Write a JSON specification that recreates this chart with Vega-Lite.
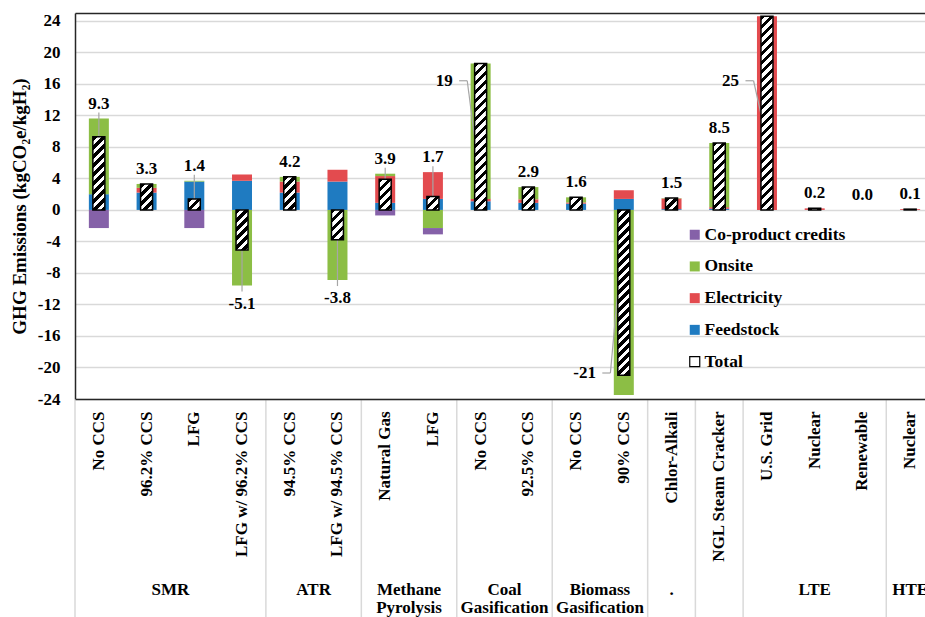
{
  "$schema": "https://vega.github.io/schema/vega-lite/v6.json",
  "width": 850,
  "height": 386,
  "autosize": {"type": "none"},
  "padding": {"left": 75, "top": 13, "right": 0, "bottom": 218},
  "background": "white",
  "config": {
    "font": "Liberation Serif",
    "view": {"stroke": null},
    "axisY": {
      "ticks": false,
      "tickSize": 0,
      "domain": true,
      "domainColor": "#262626",
      "domainWidth": 1.5,
      "labelPadding": 15,
      "labelOverlap": false,
      "labelFont": "Liberation Serif",
      "labelFontWeight": "bold",
      "labelFontSize": 17,
      "labelColor": "#000",
      "titleFont": "Liberation Serif",
      "titleFontWeight": "bold",
      "titleFontSize": 19,
      "titleColor": "#000",
      "titlePadding": 8,
      "grid": true
    }
  },
  "params": [
    {"name": "hatch", "value": [
      {"offset":0,"color":"#000"},{"offset":0.02,"color":"#000"},{"offset":0.02,"color":"#fff"},{"offset":0.04,"color":"#fff"},
      {"offset":0.04,"color":"#000"},{"offset":0.06,"color":"#000"},{"offset":0.06,"color":"#fff"},{"offset":0.08,"color":"#fff"},
      {"offset":0.08,"color":"#000"},{"offset":0.1,"color":"#000"},{"offset":0.1,"color":"#fff"},{"offset":0.12,"color":"#fff"},
      {"offset":0.12,"color":"#000"},{"offset":0.14,"color":"#000"},{"offset":0.14,"color":"#fff"},{"offset":0.16,"color":"#fff"},
      {"offset":0.16,"color":"#000"},{"offset":0.18,"color":"#000"},{"offset":0.18,"color":"#fff"},{"offset":0.2,"color":"#fff"},
      {"offset":0.2,"color":"#000"},{"offset":0.22,"color":"#000"},{"offset":0.22,"color":"#fff"},{"offset":0.24,"color":"#fff"},
      {"offset":0.24,"color":"#000"},{"offset":0.26,"color":"#000"},{"offset":0.26,"color":"#fff"},{"offset":0.28,"color":"#fff"},
      {"offset":0.28,"color":"#000"},{"offset":0.3,"color":"#000"},{"offset":0.3,"color":"#fff"},{"offset":0.32,"color":"#fff"},
      {"offset":0.32,"color":"#000"},{"offset":0.34,"color":"#000"},{"offset":0.34,"color":"#fff"},{"offset":0.36,"color":"#fff"},
      {"offset":0.36,"color":"#000"},{"offset":0.38,"color":"#000"},{"offset":0.38,"color":"#fff"},{"offset":0.4,"color":"#fff"},
      {"offset":0.4,"color":"#000"},{"offset":0.42,"color":"#000"},{"offset":0.42,"color":"#fff"},{"offset":0.44,"color":"#fff"},
      {"offset":0.44,"color":"#000"},{"offset":0.46,"color":"#000"},{"offset":0.46,"color":"#fff"},{"offset":0.48,"color":"#fff"},
      {"offset":0.48,"color":"#000"},{"offset":0.5,"color":"#000"},{"offset":0.5,"color":"#fff"},{"offset":0.52,"color":"#fff"},
      {"offset":0.52,"color":"#000"},{"offset":0.54,"color":"#000"},{"offset":0.54,"color":"#fff"},{"offset":0.56,"color":"#fff"},
      {"offset":0.56,"color":"#000"},{"offset":0.58,"color":"#000"},{"offset":0.58,"color":"#fff"},{"offset":0.6,"color":"#fff"},
      {"offset":0.6,"color":"#000"},{"offset":0.62,"color":"#000"},{"offset":0.62,"color":"#fff"},{"offset":0.64,"color":"#fff"},
      {"offset":0.64,"color":"#000"},{"offset":0.66,"color":"#000"},{"offset":0.66,"color":"#fff"},{"offset":0.68,"color":"#fff"},
      {"offset":0.68,"color":"#000"},{"offset":0.7,"color":"#000"},{"offset":0.7,"color":"#fff"},{"offset":0.72,"color":"#fff"},
      {"offset":0.72,"color":"#000"},{"offset":0.74,"color":"#000"},{"offset":0.74,"color":"#fff"},{"offset":0.76,"color":"#fff"},
      {"offset":0.76,"color":"#000"},{"offset":0.78,"color":"#000"},{"offset":0.78,"color":"#fff"},{"offset":0.8,"color":"#fff"},
      {"offset":0.8,"color":"#000"},{"offset":0.82,"color":"#000"},{"offset":0.82,"color":"#fff"},{"offset":0.84,"color":"#fff"},
      {"offset":0.84,"color":"#000"},{"offset":0.86,"color":"#000"},{"offset":0.86,"color":"#fff"},{"offset":0.88,"color":"#fff"},
      {"offset":0.88,"color":"#000"},{"offset":0.9,"color":"#000"},{"offset":0.9,"color":"#fff"},{"offset":0.92,"color":"#fff"},
      {"offset":0.92,"color":"#000"},{"offset":0.94,"color":"#000"},{"offset":0.94,"color":"#fff"},{"offset":0.96,"color":"#fff"},
      {"offset":0.96,"color":"#000"},{"offset":0.98,"color":"#000"},{"offset":0.98,"color":"#fff"},{"offset":1,"color":"#fff"}
    ]},
    {"name": "hatchKey", "value": [
      {"offset":0,"color":"#fff"},{"offset":0.33,"color":"#fff"},{"offset":0.33,"color":"#000"},
      {"offset":0.67,"color":"#000"},{"offset":0.67,"color":"#fff"},{"offset":1,"color":"#fff"}
    ]}
  ],
  "data": {"values": [
    {"grp":"SMR","cat":"No CCS","feedstock":2.0,"electricity":0,"onsite":9.6,"credits":-2.3,"total":9.3},
    {"grp":"SMR","cat":"96.2% CCS","feedstock":2.2,"electricity":0.6,"onsite":0.5,"credits":0,"total":3.3},
    {"grp":"SMR","cat":"LFG","feedstock":3.6,"electricity":0,"onsite":0.1,"credits":-2.3,"total":1.4},
    {"grp":"SMR","cat":"LFG w/ 96.2% CCS","feedstock":3.7,"electricity":0.8,"onsite":-9.6,"credits":0,"total":-5.1},
    {"grp":"ATR","cat":"94.5% CCS","feedstock":2.2,"electricity":1.4,"onsite":0.6,"credits":0,"total":4.2},
    {"grp":"ATR","cat":"LFG w/ 94.5% CCS","feedstock":3.6,"electricity":1.5,"onsite":-8.9,"credits":0,"total":-3.8},
    {"grp":"Methane Pyrolysis","cat":"Natural Gas","feedstock":0.9,"electricity":3.4,"onsite":0.3,"credits":-0.7,"total":3.9},
    {"grp":"Methane Pyrolysis","cat":"LFG","feedstock":1.4,"electricity":3.4,"onsite":-2.3,"credits":-0.8,"total":1.7},
    {"grp":"Coal Gasification","cat":"No CCS","feedstock":1.1,"electricity":0.3,"onsite":17.2,"credits":0,"total":18.6},
    {"grp":"Coal Gasification","cat":"92.5% CCS","feedstock":0.9,"electricity":0.45,"onsite":1.55,"credits":0,"total":2.9},
    {"grp":"Biomass Gasification","cat":"No CCS","feedstock":0.8,"electricity":0.15,"onsite":0.65,"credits":0,"total":1.6},
    {"grp":"Biomass Gasification","cat":"90% CCS","feedstock":1.4,"electricity":1.1,"onsite":-23.5,"credits":0,"total":-21.0},
    {"grp":".","cat":"Chlor-Alkali","feedstock":0.1,"electricity":1.35,"onsite":0.05,"credits":0,"total":1.5},
    {"grp":"","cat":"NGL Steam Cracker","feedstock":0.15,"electricity":0.2,"onsite":8.15,"credits":0,"total":8.5},
    {"grp":"LTE","cat":"U.S. Grid","feedstock":0,"electricity":24.6,"onsite":0,"credits":0,"total":24.6},
    {"grp":"LTE","cat":"Nuclear","feedstock":0,"electricity":0.2,"onsite":0,"credits":0,"total":0.2},
    {"grp":"LTE","cat":"Renewable","feedstock":0,"electricity":0,"onsite":0,"credits":0,"total":0},
    {"grp":"HTE","cat":"Nuclear","feedstock":0,"electricity":0.1,"onsite":0,"credits":0,"total":0.1}
  ]},
  "transform": [
    {"calculate": "datum.grp + '|' + datum.cat", "as": "key"},
    {"window": [{"op": "row_number", "as": "k"}], "groupby": ["grp"]},
    {"joinaggregate": [{"op": "count", "as": "n"}], "groupby": ["grp"]},
    {"calculate": "max(0, datum.feedstock) + max(0, datum.electricity) + max(0, datum.onsite) + max(0, datum.credits)", "as": "posTop"},
    {"calculate": "min(0, datum.feedstock) + min(0, datum.electricity) + min(0, datum.onsite) + min(0, datum.credits)", "as": "negBot"},
    {"calculate": "datum.total >= 0 ? datum.posTop : datum.negBot", "as": "ly"},
    {"calculate": "datum.total > 0 ? 16.4 : datum.total + 0.3", "as": "lyBig"},
    {"calculate": "datum.total / 2", "as": "half"},
    {"calculate": "(datum.total < 0 ? '-' : '') + format(abs(datum.total), abs(datum.total) >= 10 ? '.0f' : '.1f')", "as": "lbl"}
  ],
  "encoding": {
    "x": {
      "field": "key",
      "type": "nominal",
      "scale": {
        "domain": ["SMR|No CCS","SMR|96.2% CCS","SMR|LFG","SMR|LFG w/ 96.2% CCS","ATR|94.5% CCS","ATR|LFG w/ 94.5% CCS","Methane Pyrolysis|Natural Gas","Methane Pyrolysis|LFG","Coal Gasification|No CCS","Coal Gasification|92.5% CCS","Biomass Gasification|No CCS","Biomass Gasification|90% CCS",".|Chlor-Alkali","|NGL Steam Cracker","LTE|U.S. Grid","LTE|Nuclear","LTE|Renewable","HTE|Nuclear"],
        "range": [0, 859],
        "paddingInner": 0,
        "paddingOuter": 0
      },
      "axis": {
        "title": null,
        "labelAngle": 270,
        "labelAlign": "right",
        "labelBaseline": "middle",
        "labelPadding": 12,
        "ticks": false,
        "tickSize": 0,
        "domain": true,
        "domainColor": "#262626",
        "domainWidth": 1.5,
        "grid": false,
        "labelExpr": "split(datum.value, '|')[1]",
        "labelFont": "Liberation Serif",
        "labelFontWeight": "bold",
        "labelFontSize": 17,
        "labelColor": "#000",
        "labelOverlap": false,
        "labelLimit": 300,
        "zindex": 1
      }
    }
  },
  "layer": [
    {
      "transform": [
        {"fold": ["feedstock", "electricity", "onsite", "credits"], "as": ["part", "amount"]},
        {"filter": "datum.amount != 0"},
        {"calculate": "indexof(['feedstock', 'electricity', 'onsite', 'credits'], datum.part)", "as": "ord"}
      ],
      "mark": {"type": "bar", "size": 20},
      "encoding": {
        "y": {
          "field": "amount",
          "type": "quantitative",
          "stack": "zero",
          "scale": {"domain": [-24, 25], "nice": false, "zero": false},
          "axis": {"values": [-24, -20, -16, -12, -8, -4, 0, 4, 8, 12, 16, 20, 24, 25], "labelExpr": "datum.value == 25 ? '' : (datum.value < 0 ? '-' : '') + abs(datum.value)", "labelOverlap": false, "gridColor": {"condition": {"test": "datum.value == 25", "value": "#262626"}, "value": "#d9d9d9"}, "gridWidth": {"condition": {"test": "datum.value == 25", "value": 1.5}, "value": 1.3}, "title": "GHG Emissions (kgCO₂e/kgH₂)"}
        },
        "color": {
          "field": "part",
          "type": "nominal",
          "scale": {
            "domain": ["credits", "onsite", "electricity", "feedstock", "total"],
            "range": ["#8561a8", "#8cbe45", "#e34b4f", "#1f7bc1", "#ffffff"]
          },
          "legend": {
            "title": null,
            "orient": "none",
            "legendX": 611,
            "legendY": 213,
            "padding": 0,
            "symbolType": "square",
            "symbolSize": 100,
            "rowPadding": 12.7,
            "labelOffset": 1,
            "labelFont": "Liberation Serif",
            "labelFontWeight": "bold",
            "labelFontSize": 17.5,
            "labelColor": "#000",
            "labelExpr": "datum.value == 'credits' ? 'Co-product credits' : datum.value == 'onsite' ? 'Onsite' : datum.value == 'electricity' ? 'Electricity' : datum.value == 'feedstock' ? 'Feedstock' : 'Total'",
            "encode": {
              "symbols": {
                "update": {
                  "fill": {"signal": "datum.value === 'total' ? {gradient: 'linear', x1: 0, y1: 0, x2: 1, y2: 1, stops: hatchKey} : scale('color', datum.value)"},
                  "stroke": {"signal": "datum.value === 'total' ? '#000' : null"},
                  "strokeWidth": {"value": 1.2},
                  "opacity": {"value": 1}
                }
              }
            }
          }
        },
        "order": {"field": "ord", "type": "quantitative"}
      }
    },
    {
      "transform": [
        {"filter": "abs(datum.total) < 15 && (datum.total >= 0 ? datum.posTop - datum.total : datum.total - datum.negBot) > 0.3"}
      ],
      "mark": {"type": "rule", "color": "#a6a6a6", "strokeWidth": 1.2, "y2Offset": {"expr": "datum.total >= 0 ? -6 : 6"}},
      "encoding": {
        "y": {"field": "total", "type": "quantitative", "scale": {"domain": [-24, 25], "nice": false, "zero": false},
          "axis": {"values": [-24, -20, -16, -12, -8, -4, 0, 4, 8, 12, 16, 20, 24, 25], "labelExpr": "datum.value == 25 ? '' : (datum.value < 0 ? '-' : '') + abs(datum.value)", "labelOverlap": false, "gridColor": {"condition": {"test": "datum.value == 25", "value": "#262626"}, "value": "#d9d9d9"}, "gridWidth": {"condition": {"test": "datum.value == 25", "value": 1.5}, "value": 1.3}, "title": "GHG Emissions (kgCO₂e/kgH₂)"}},
        "y2": {"field": "ly"}
      }
    },
    {
      "transform": [{"filter": "abs(datum.total) >= 15"}],
      "mark": {"type": "rule", "color": "#a6a6a6", "strokeWidth": 1.2, "xOffset": -21.5, "x2Offset": -13.4},
      "encoding": {
        "x2": {"field": "key"},
        "y": {"field": "lyBig", "type": "quantitative", "scale": {"domain": [-24, 25], "nice": false, "zero": false},
          "axis": {"values": [-24, -20, -16, -12, -8, -4, 0, 4, 8, 12, 16, 20, 24, 25], "labelExpr": "datum.value == 25 ? '' : (datum.value < 0 ? '-' : '') + abs(datum.value)", "labelOverlap": false, "gridColor": {"condition": {"test": "datum.value == 25", "value": "#262626"}, "value": "#d9d9d9"}, "gridWidth": {"condition": {"test": "datum.value == 25", "value": 1.5}, "value": 1.3}, "title": "GHG Emissions (kgCO₂e/kgH₂)"}}
      }
    },
    {
      "transform": [{"filter": "abs(datum.total) >= 15"}],
      "mark": {"type": "rule", "color": "#a6a6a6", "strokeWidth": 1.2, "xOffset": -13.4, "x2Offset": -6.2},
      "encoding": {
        "x2": {"field": "key"},
        "y": {"field": "lyBig", "type": "quantitative", "scale": {"domain": [-24, 25], "nice": false, "zero": false},
          "axis": {"values": [-24, -20, -16, -12, -8, -4, 0, 4, 8, 12, 16, 20, 24, 25], "labelExpr": "datum.value == 25 ? '' : (datum.value < 0 ? '-' : '') + abs(datum.value)", "labelOverlap": false, "gridColor": {"condition": {"test": "datum.value == 25", "value": "#262626"}, "value": "#d9d9d9"}, "gridWidth": {"condition": {"test": "datum.value == 25", "value": 1.5}, "value": 1.3}, "title": "GHG Emissions (kgCO₂e/kgH₂)"}},
        "y2": {"field": "half"}
      }
    },
    {
      "transform": [{"filter": "datum.total != 0"}],
      "mark": {
        "type": "bar",
        "size": 12,
        "stroke": "#000",
        "strokeWidth": 1.5,
        "fill": {"expr": "{gradient: 'linear', x1: 0, y1: 0, x2: 2700 / (pow(scale('y', 0) - scale('y', datum.total), 2) + 144), y2: 225 * abs(scale('y', 0) - scale('y', datum.total)) / (pow(scale('y', 0) - scale('y', datum.total), 2) + 144), stops: hatch}"}
      },
      "encoding": {
        "y": {"field": "total", "type": "quantitative", "stack": null, "scale": {"domain": [-24, 25], "nice": false, "zero": false},
          "axis": {"values": [-24, -20, -16, -12, -8, -4, 0, 4, 8, 12, 16, 20, 24, 25], "labelExpr": "datum.value == 25 ? '' : (datum.value < 0 ? '-' : '') + abs(datum.value)", "labelOverlap": false, "gridColor": {"condition": {"test": "datum.value == 25", "value": "#262626"}, "value": "#d9d9d9"}, "gridWidth": {"condition": {"test": "datum.value == 25", "value": 1.5}, "value": 1.3}, "title": "GHG Emissions (kgCO₂e/kgH₂)"}}
      }
    },
    {
      "transform": [{"filter": "abs(datum.total) < 15"}],
      "mark": {
        "type": "text",
        "font": "Liberation Serif",
        "fontWeight": "bold",
        "fontSize": 17,
        "color": "#000",
        "baseline": "middle",
        "dy": {"expr": "datum.total >= 0 ? -15 : 18"}
      },
      "encoding": {
        "y": {"field": "ly", "type": "quantitative", "scale": {"domain": [-24, 25], "nice": false, "zero": false},
          "axis": {"values": [-24, -20, -16, -12, -8, -4, 0, 4, 8, 12, 16, 20, 24, 25], "labelExpr": "datum.value == 25 ? '' : (datum.value < 0 ? '-' : '') + abs(datum.value)", "labelOverlap": false, "gridColor": {"condition": {"test": "datum.value == 25", "value": "#262626"}, "value": "#d9d9d9"}, "gridWidth": {"condition": {"test": "datum.value == 25", "value": 1.5}, "value": 1.3}, "title": "GHG Emissions (kgCO₂e/kgH₂)"}},
        "text": {"field": "lbl"}
      }
    },
    {
      "transform": [{"filter": "abs(datum.total) >= 15"}],
      "mark": {
        "type": "text",
        "font": "Liberation Serif",
        "fontWeight": "bold",
        "fontSize": 17,
        "color": "#000",
        "align": "right",
        "baseline": "middle",
        "dx": -27.9
      },
      "encoding": {
        "y": {"field": "lyBig", "type": "quantitative", "scale": {"domain": [-24, 25], "nice": false, "zero": false},
          "axis": {"values": [-24, -20, -16, -12, -8, -4, 0, 4, 8, 12, 16, 20, 24, 25], "labelExpr": "datum.value == 25 ? '' : (datum.value < 0 ? '-' : '') + abs(datum.value)", "labelOverlap": false, "gridColor": {"condition": {"test": "datum.value == 25", "value": "#262626"}, "value": "#d9d9d9"}, "gridWidth": {"condition": {"test": "datum.value == 25", "value": 1.5}, "value": 1.3}, "title": "GHG Emissions (kgCO₂e/kgH₂)"}},
        "text": {"field": "lbl"}
      }
    },
    {
      "transform": [{"filter": "datum.k == 1"}],
      "mark": {"type": "rule", "color": "#d9d9d9", "strokeWidth": 1.5, "xOffset": {"expr": "-bandwidth('x') / 2"}},
      "encoding": {
        "y": {"datum": -24, "scale": {"domain": [-24, 25], "nice": false, "zero": false},
          "axis": {"values": [-24, -20, -16, -12, -8, -4, 0, 4, 8, 12, 16, 20, 24, 25], "labelExpr": "datum.value == 25 ? '' : (datum.value < 0 ? '-' : '') + abs(datum.value)", "labelOverlap": false, "gridColor": {"condition": {"test": "datum.value == 25", "value": "#262626"}, "value": "#d9d9d9"}, "gridWidth": {"condition": {"test": "datum.value == 25", "value": 1.5}, "value": 1.3}, "title": "GHG Emissions (kgCO₂e/kgH₂)"}},
        "y2": {"datum": -52.8}
      }
    },
    {
      "transform": [{"filter": "datum.k == floor(datum.n / 2) + 1"}],
      "mark": {
        "type": "text",
        "font": "Liberation Serif",
        "fontWeight": "bold",
        "fontSize": 17,
        "color": "#000",
        "align": "center",
        "baseline": "top",
        "lineBreak": " ",
        "lineHeight": 18,
        "dx": {"expr": "datum.n % 2 == 0 ? -bandwidth('x') / 2 : 0"}
      },
      "encoding": {
        "y": {"datum": -47.2, "scale": {"domain": [-24, 25], "nice": false, "zero": false},
          "axis": {"values": [-24, -20, -16, -12, -8, -4, 0, 4, 8, 12, 16, 20, 24, 25], "labelExpr": "datum.value == 25 ? '' : (datum.value < 0 ? '-' : '') + abs(datum.value)", "labelOverlap": false, "gridColor": {"condition": {"test": "datum.value == 25", "value": "#262626"}, "value": "#d9d9d9"}, "gridWidth": {"condition": {"test": "datum.value == 25", "value": 1.5}, "value": 1.3}, "title": "GHG Emissions (kgCO₂e/kgH₂)"}},
        "text": {"field": "grp"}
      }
    }
  ]
}
